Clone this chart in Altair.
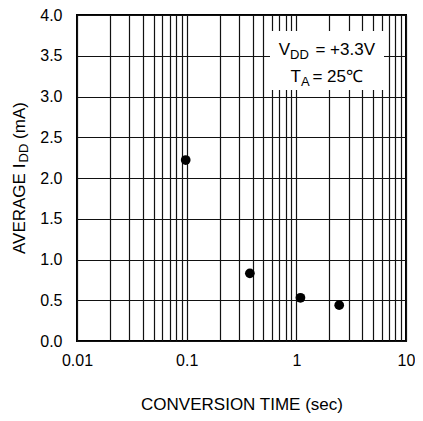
import altair as alt
import pandas as pd

# data
conv_time = [0.098, 0.377, 1.09, 2.46]
avg_idd = [2.22, 0.83, 0.53, 0.44]

x_grid = [0.01, 0.02, 0.03, 0.04, 0.05, 0.06, 0.07, 0.08, 0.09,
          0.1, 0.2, 0.3, 0.4, 0.5, 0.6, 0.7, 0.8, 0.9,
          1, 2, 3, 4, 5, 6, 7, 8, 9, 10]
x_labels = ["0.01", "0.1", "1", "10"]
y_ticks = [0.0, 0.5, 1.0, 1.5, 2.0, 2.5, 3.0, 3.5, 4.0]

FONT = "Liberation Sans"
W, H = 329, 326

df = pd.DataFrame({"t": conv_time, "i": avg_idd})

label_expr = " : ".join(
    [f"datum.value == {float(v)} ? '{v}'" for v in x_labels]) + " : ''"

base = alt.Chart(df)

points = base.mark_circle(size=95, color="black", opacity=1).encode(
    x=alt.X("t:Q",
            scale=alt.Scale(type="log", domain=[0.01, 10], nice=False),
            axis=alt.Axis(values=x_grid, labelExpr=label_expr, grid=True,
                          ticks=False, domain=False, labelFlush=False,
                          labelOverlap=False, labelPadding=11,
                          labelFontSize=16, labelFont=FONT, labelColor="black",
                          title="CONVERSION TIME (sec)", titleFont=FONT,
                          titleFontSize=17, titleFontWeight="normal",
                          titleColor="black", titlePadding=28,
                          gridColor="#111111", gridWidth=1.2, gridOpacity=1)),
    y=alt.Y("i:Q",
            scale=alt.Scale(domain=[0, 4], nice=False),
            axis=alt.Axis(values=y_ticks, format=".1f", grid=True,
                          ticks=False, domain=False, labelFlush=False,
                          labelOverlap=False, labelPadding=15,
                          labelFontSize=16, labelFont=FONT, labelColor="black",
                          title=None,
                          gridColor="#111111", gridWidth=1.2, gridOpacity=1)),
)

box = base.mark_rect(fill="white", stroke=None).encode(
    x=alt.value(193), x2=alt.value(307), y=alt.value(16), y2=alt.value(75)
)

def txt(text, x, y, size, align="left", angle=0):
    return alt.Chart(pd.DataFrame({"s": [text]})).mark_text(
        font=FONT, fontSize=size, color="black", align=align,
        baseline="alphabetic", angle=angle
    ).encode(x=alt.value(x), y=alt.value(y), text="s:N")

legend = (
    txt("V", 213, 40, 17, "right")
    + txt("DD", 213, 43.5, 13, "left")
    + txt("= +3.3V", 298, 40, 17, "right")
    + txt("T", 224, 67, 17, "right")
    + txt("A", 224, 70.5, 13, "left")
    + txt("= 25\u2103", 286, 67, 17, "right")
)

ytitle = (
    txt("AVERAGE I", -52, 239, 17, "left", 270)
    + txt("DD", -49, 147.4, 13, "left", 270)
    + txt("(mA)", -52, 123.9, 17, "left", 270)
)

chart = alt.layer(points, box, legend, ytitle).properties(
    width=W, height=H,
    autosize=alt.AutoSizeParams(type="none"),
    padding={"left": 69, "top": 7, "right": 9, "bottom": 72},
).configure_view(stroke="black", strokeWidth=2)

chart.save("out.html", embed_options={"renderer": "svg", "actions": False})
